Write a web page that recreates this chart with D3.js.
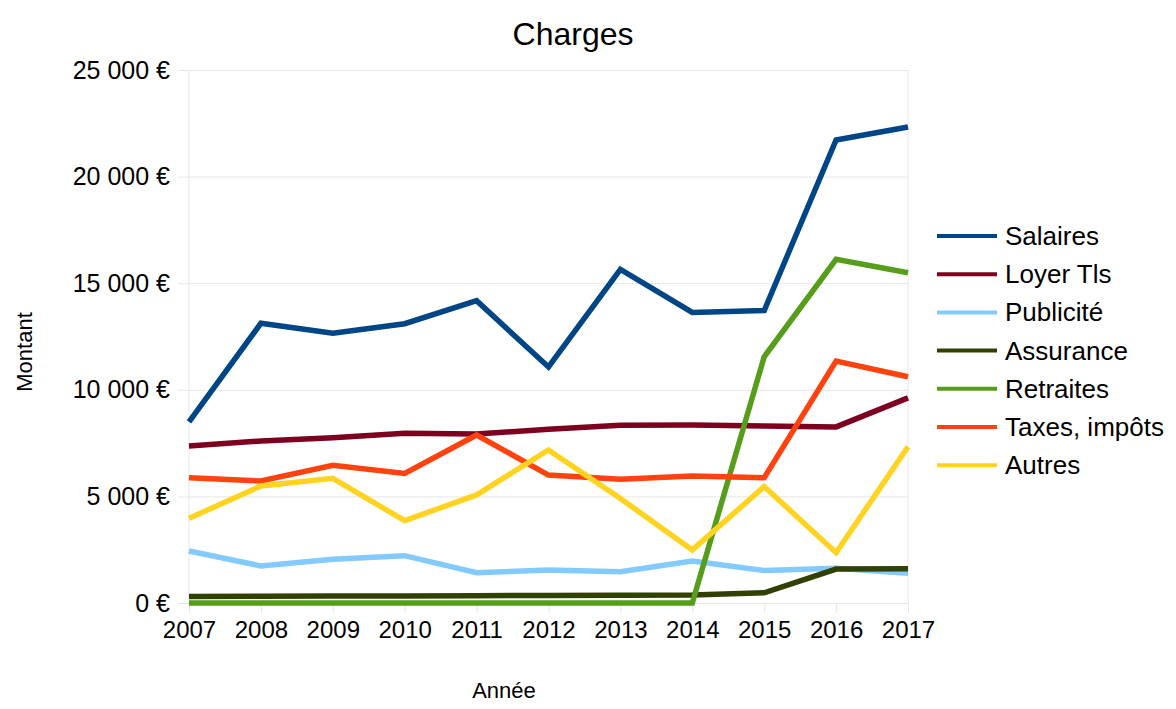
<!DOCTYPE html>
<html>
<head>
<meta charset="utf-8">
<script src="https://cdn.jsdelivr.net/npm/d3@7"></script>
<style>
  body { margin: 0; background: #fff; }
  svg { font-family: "Liberation Sans", Arial, sans-serif; }
</style>
</head>
<body>
<svg width="1176" height="709"></svg>
<script>
var years = [2007, 2008, 2009, 2010, 2011, 2012, 2013, 2014, 2015, 2016, 2017];
var salaires   = [8500, 13120, 12650, 13100, 14180, 11070, 15650, 13630, 13720, 21720, 22330];
var loyer      = [7360, 7600, 7750, 7960, 7930, 8150, 8340, 8350, 8300, 8260, 9620];
var publicite  = [2440, 1740, 2050, 2220, 1420, 1550, 1470, 1970, 1520, 1630, 1400];
var assurance  = [300, 320, 330, 330, 345, 355, 365, 380, 480, 1590, 1610];
var retraites  = [0, 0, 0, 0, 0, 0, 0, 0, 11550, 16120, 15490];
var taxes      = [5880, 5720, 6460, 6080, 7880, 6000, 5800, 5960, 5880, 11350, 10610];
var autres     = [3970, 5490, 5850, 3860, 5070, 7180, 4900, 2490, 5460, 2360, 7330];
var yTicks = [0, 5000, 10000, 15000, 20000, 25000];

var series = [
  { name: "Salaires", values: salaires, color: "#004586" },
  { name: "Loyer Tls", values: loyer, color: "#7e0021" },
  { name: "Publicité", values: publicite, color: "#83caff" },
  { name: "Assurance", values: assurance, color: "#314004" },
  { name: "Retraites", values: retraites, color: "#579d1c" },
  { name: "Taxes, impôts", values: taxes, color: "#ff420e" },
  { name: "Autres", values: autres, color: "#ffd320" }
];

var svg = d3.select("svg");
var plotL = 189, plotR = 908, plotT = 70, plotB = 603;

var x = d3.scaleLinear().domain([2007, 2017]).range([plotL, plotR]);
var y = d3.scaleLinear().domain([0, 25000]).range([plotB, plotT]);

var fr = d3.formatLocale({ decimal: ",", thousands: " ", grouping: [3], currency: ["", " €"] });
var fmt = fr.format(",.0f");

// gridlines + y labels
var yAxis = d3.axisLeft(y).tickValues(yTicks).tickSize(plotR - plotL + 11)
  .tickFormat(function (d) { return fmt(d) + " €"; }).tickPadding(8);
var gy = svg.append("g").attr("transform", "translate(" + plotR + ",0)").call(yAxis);
gy.select(".domain").remove();
gy.selectAll(".tick line").attr("stroke", "#e6e6e6");
gy.selectAll(".tick text").attr("font-size", 25).attr("fill", "#000");

// x ticks
var xAxis = d3.axisBottom(x).tickValues(years).tickFormat(d3.format("d")).tickSize(10).tickPadding(8);
var gx = svg.append("g").attr("transform", "translate(0," + plotB + ")").call(xAxis);
gx.select(".domain").remove();
gx.selectAll(".tick line").attr("stroke", "#e6e6e6");
gx.selectAll(".tick text").attr("font-size", 24).attr("fill", "#000");

// vertical borders
svg.append("line").attr("x1", plotL).attr("x2", plotL).attr("y1", plotT).attr("y2", plotB).attr("stroke", "#e6e6e6");
svg.append("line").attr("x1", plotR).attr("x2", plotR).attr("y1", plotT).attr("y2", plotB).attr("stroke", "#e6e6e6");

var line = d3.line().x(function (d, i) { return x(years[i]); }).y(function (d) { return y(d); });

series.forEach(function (s) {
  svg.append("path").datum(s.values)
    .attr("d", line)
    .attr("fill", "none")
    .attr("stroke", s.color)
    .attr("stroke-width", 5.5)
    .attr("stroke-linejoin", "miter");
});

// title and axis titles
svg.append("text").attr("x", 573).attr("y", 45).attr("text-anchor", "middle").attr("font-size", 32).text("Charges");
svg.append("text").attr("x", 504).attr("y", 698).attr("text-anchor", "middle").attr("font-size", 22).text("Année");
svg.append("text").attr("transform", "translate(32,352) rotate(-90)").attr("text-anchor", "middle").attr("font-size", 22).text("Montant");

// legend
var legend = svg.append("g");
series.forEach(function (s, i) {
  var ly = 236 + i * 38.2;
  legend.append("line").attr("x1", 937).attr("x2", 997).attr("y1", ly).attr("y2", ly)
    .attr("stroke", s.color).attr("stroke-width", 4);
  legend.append("text").attr("x", 1005).attr("y", ly + 9).attr("font-size", 26).text(s.name);
});
</script>
</body>
</html>
